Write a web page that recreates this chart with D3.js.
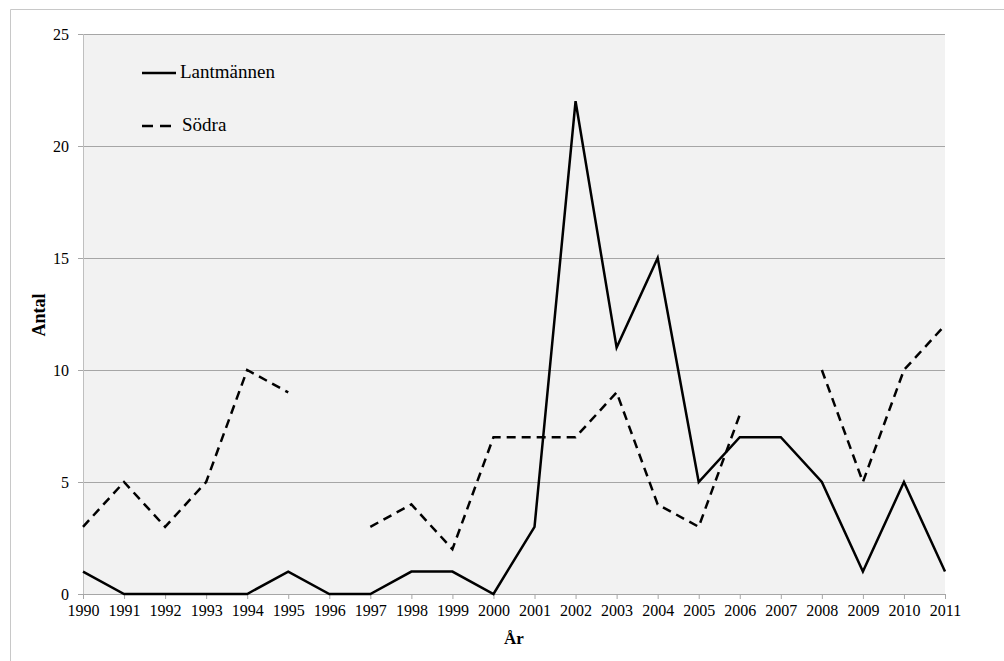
<!DOCTYPE html>
<html>
<head>
<meta charset="utf-8">
<script src="https://cdn.jsdelivr.net/npm/d3@7"></script>
<style>
  body { margin: 0; background: #fff; }
  svg text { font-family: "Liberation Serif", "Times New Roman", Tinos, "DejaVu Serif", serif !important; }
</style>
</head>
<body>
<svg id="chart" width="1004" height="661"></svg>
<script>
/* ======================== DATA ========================= */
const years = [1990, 1991, 1992, 1993, 1994, 1995, 1996, 1997, 1998, 1999, 2000,
               2001, 2002, 2003, 2004, 2005, 2006, 2007, 2008, 2009, 2010, 2011];
const lantmannen = [1, 0, 0, 0, 0, 1, 0, 0, 1, 1, 0, 3, 22, 11, 15, 5, 7, 7, 5, 1, 5, 1];
const sodra = [3, 5, 3, 5, 10, 9, null, 3, 4, 2, 7, 7, 7, 9, 4, 3, 8, null, 10, 5, 10, 12];
const yTicks = [0, 5, 10, 15, 20, 25];
const seriesNames = ["Lantmännen", "Södra"];

/* ======================================================= */

const margin = {left: 83, top: 34, right: 59, bottom: 67};
const width = 1004, height = 661;
const plotW = width - margin.left - margin.right;
const plotH = height - margin.top - margin.bottom;

function translate(x, y) { return "translate(" + x + "," + y + ")"; }

let svg = d3.select("#chart");

// outer frame
svg.append("path")
   .attr("d", "M10.5," + height + "V9.5H" + width)
   .attr("fill", "none")
   .attr("stroke", "#c8c8c8");

let xScale = d3.scalePoint()
               .domain(years)
               .range([0, plotW]);
let yScale = d3.scaleLinear()
               .domain([0, 25])
               .range([plotH, 0]);

let plot = svg.append("g").attr("transform", translate(margin.left, margin.top));

plot.append("rect")
    .attr("width", plotW)
    .attr("height", plotH)
    .attr("fill", "#f2f2f2");

// gridlines
plot.selectAll(".grid")
    .data(yTicks.filter(d => d > 0))
    .join("line")
    .attr("x1", 0).attr("x2", plotW)
    .attr("y1", d => Math.round(yScale(d)) + 0.5)
    .attr("y2", d => Math.round(yScale(d)) + 0.5)
    .attr("stroke", "#a6a6a6");

// y axis
let yAxis = plot.append("g")
                .call(d3.axisLeft(yScale).tickValues(yTicks).tickSize(5).tickPadding(9));
yAxis.select(".domain").attr("stroke", "#bfbfbf").attr("d", "M0.5,0V" + plotH);
yAxis.selectAll(".tick line").attr("stroke", "#a6a6a6");
yAxis.selectAll("text").attr("font-size", 16).attr("fill", "#000");

// x axis
let xAxis = plot.append("g")
                .attr("transform", translate(0, plotH))
                .call(d3.axisBottom(xScale).tickSize(5).tickPadding(6));
xAxis.select(".domain").attr("stroke", "#a6a6a6").attr("d", "M0," + 0.5 + "H" + plotW);
xAxis.selectAll(".tick line").attr("stroke", "#a6a6a6");
xAxis.selectAll("text").attr("font-size", 16).attr("fill", "#000");

// axis titles
svg.append("text")
   .attr("x", margin.left + plotW / 2)
   .attr("y", 644)
   .attr("text-anchor", "middle")
   .attr("font-size", 17).attr("font-weight", "bold")
   .text("År");
svg.append("text")
   .attr("transform", translate(45, margin.top + 281) + " rotate(-90)")
   .attr("text-anchor", "middle")
   .attr("font-size", 18).attr("font-weight", "bold")
   .text("Antal");

// lines
let line = d3.line()
             .defined(d => d.v !== null)
             .x(d => xScale(d.year))
             .y(d => yScale(d.v));

plot.append("path")
    .datum(years.map((y, i) => ({year: y, v: sodra[i]})))
    .attr("d", line)
    .attr("fill", "none")
    .attr("stroke", "#000")
    .attr("stroke-width", 2.5)
    .attr("stroke-dasharray", "9,6");

plot.append("path")
    .datum(years.map((y, i) => ({year: y, v: lantmannen[i]})))
    .attr("d", line)
    .attr("fill", "none")
    .attr("stroke", "#000")
    .attr("stroke-width", 2.5);

// legend
let legend = svg.append("g");
seriesNames.forEach((name, i) => {
    let ly = 73 + i * 53;
    legend.append("line")
          .attr("x1", 142).attr("x2", i === 0 ? 176 : 171)
          .attr("y1", ly).attr("y2", ly)
          .attr("stroke", "#000")
          .attr("stroke-width", 2.5)
          .attr("stroke-dasharray", i === 1 ? "11,7" : null);
    legend.append("text")
          .attr("x", i === 0 ? 180 : 182)
          .attr("y", ly + 5)
          .attr("font-size", 19)
          .text(name);
});
</script>
</body>
</html>
